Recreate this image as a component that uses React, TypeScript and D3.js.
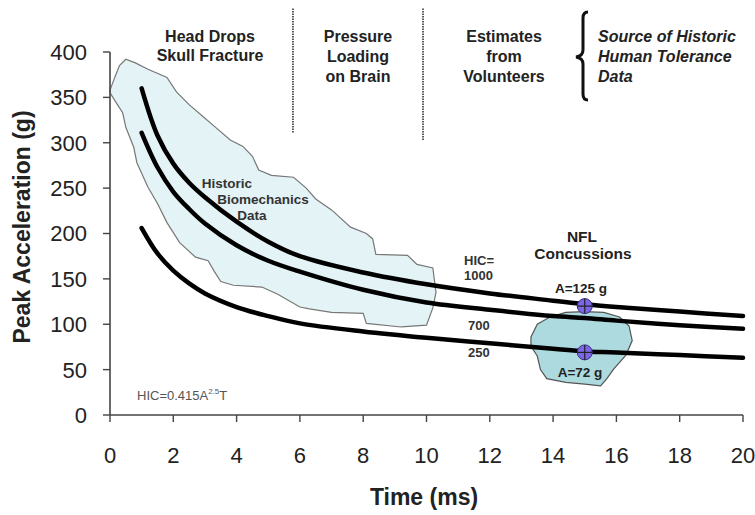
import React from "react";
import * as d3 from "d3";

// ---- data ----
const xTicks = [0, 2, 4, 6, 8, 10, 12, 14, 16, 18, 20];
const yTicks = [0, 50, 100, 150, 200, 250, 300, 350, 400];

const curveTimes = [1, 1.5, 2, 2.5, 3, 4, 5, 6, 8, 10, 12, 14, 15, 16, 18, 20];
const hic1000 = [360, 308, 277, 256, 240, 213, 191, 175, 157, 144, 134, 126, 122, 119, 114, 109];
const hic700 = [311, 273, 246, 227, 211, 187, 170, 158, 138, 124, 116, 109, 107, 104, 99, 95];
const hic250 = [206, 178, 159, 145, 134, 119, 109, 101, 92, 85, 79, 73, 70, 69, 66, 63];

const historicT = [0, 0.15, 0.3, 0.5, 0.8, 1.2, 1.8, 2.1, 2.5, 2.9, 3.3, 3.8, 4.2, 4.5, 4.7, 5.1, 5.8, 6.2, 6.5, 7.0, 7.6, 8.1, 8.3, 8.4, 9.4, 9.7, 10.2, 10.3, 10.2, 10.0, 9.2, 8.1, 8.0, 7.0, 6.3, 6.0, 5.3, 4.8, 3.9, 3.5, 3.3, 3.1, 2.7, 2.2, 1.8, 1.5, 1.2, 0.85, 0.75, 0.5, 0.4, 0.2, 0];
const historicA = [358, 372, 385, 392, 388, 381, 372, 356, 342, 330, 318, 303, 296, 285, 270, 264, 262, 250, 238, 226, 207, 200, 194, 177, 176, 166, 162, 135, 118, 99, 97, 101, 112, 113, 117, 119, 133, 141, 143, 147, 158, 170, 174, 190, 212, 233, 251, 278, 295, 317, 333, 344, 355];

const nflT = [13.3, 13.5, 13.9, 14.4, 15.0, 15.6, 16.1, 16.4, 16.5, 16.3, 15.9, 15.7, 15.5, 15.0, 14.4, 13.8, 13.6, 13.5, 13.3];
const nflA = [86, 100, 108, 113, 114, 113, 108, 98, 82, 66, 50, 40, 32, 34, 36, 40, 50, 65, 76];

const markerT = [15, 15];
const markerA = [120, 69];

const dividerTimes = [5.78, 9.89];
const dividerTop = 448;
const dividerBottoms = [311, 303];

const W = 755;
const H = 515;

export default function App() {
  const x = d3.scaleLinear().domain([0, 20]).range([110, 743]);
  const y = d3.scaleLinear().domain([0, 400]).range([415, 52]);

  const line = d3
    .line<[number, number]>()
    .x((d) => x(d[0]))
    .y((d) => y(d[1]))
    .curve(d3.curveCatmullRom.alpha(0.5));

  const area = d3
    .line<[number, number]>()
    .x((d) => x(d[0]))
    .y((d) => y(d[1]))
    .curve(d3.curveLinearClosed);

  const series = [hic1000, hic700, hic250];
  const hist: [number, number][] = historicT.map((t, i) => [t, historicA[i]]);
  const nfl: [number, number][] = nflT.map((t, i) => [t, nflA[i]]);

  const font = "Arial, 'Liberation Sans', Helvetica, sans-serif";
  const axisColor = "#444";

  return (
    <svg
      width={W}
      height={H}
      style={{ position: "absolute", left: 0, top: 0, background: "#fff" }}
      fontFamily={font}
    >
      <rect x={0} y={0} width={W} height={H} fill="#fff" />

      {/* Historic biomechanics blob */}
      <path d={area(hist) || ""} fill="#e4f3f5" stroke="#777" strokeWidth={1.2} />
      {/* NFL blob */}
      <path d={area(nfl) || ""} fill="#acdade" stroke="#555" strokeWidth={1.2} />

      {/* dividers */}
      {dividerTimes.map((t, i) => (
        <line
          key={i}
          x1={x(t)}
          x2={x(t)}
          y1={y(dividerTop)}
          y2={y(dividerBottoms[i])}
          stroke="#333"
          strokeWidth={1.6}
          strokeDasharray="1.5,1"
        />
      ))}

      {/* axes */}
      <line x1={x(0)} x2={x(0)} y1={y(0)} y2={y(400)} stroke={axisColor} strokeWidth={1.6} />
      <line x1={x(0)} x2={x(20)} y1={y(0)} y2={y(0)} stroke={axisColor} strokeWidth={1.6} />
      {yTicks.map((v) => (
        <g key={"y" + v}>
          <line x1={x(0) - 7} x2={x(0)} y1={y(v)} y2={y(v)} stroke={axisColor} strokeWidth={1.4} />
          <text x={87} y={y(v)} dy="0.36em" textAnchor="end" fontSize={22} fill="#222">
            {v}
          </text>
        </g>
      ))}
      {xTicks.map((v) => (
        <g key={"x" + v}>
          <line x1={x(v)} x2={x(v)} y1={y(0)} y2={y(0) + 7} stroke={axisColor} strokeWidth={1.4} />
          <text x={x(v)} y={463} textAnchor="middle" fontSize={22} fill="#222">
            {v}
          </text>
        </g>
      ))}

      {/* axis titles */}
      <text
        transform="translate(30,227) rotate(-90)"
        textAnchor="middle"
        fontSize={23}
        fontWeight="bold"
        fill="#222"
      >
        Peak Acceleration (g)
      </text>
      <text x={424} y={505} textAnchor="middle" fontSize={23} fontWeight="bold" fill="#222">
        Time (ms)
      </text>

      {/* HIC curves */}
      {series.map((s, i) => (
        <path
          key={i}
          d={line(curveTimes.map((t, j) => [t, s[j]] as [number, number])) || ""}
          fill="none"
          stroke="#000"
          strokeWidth={4.5}
          strokeLinecap="round"
        />
      ))}

      {/* markers */}
      {markerT.map((t, i) => (
        <g key={"m" + i}>
          <circle cx={x(t)} cy={y(markerA[i])} r={7.5} fill="#7a66e6" stroke="#3a2f80" strokeWidth={1} />
          <line x1={x(t) - 7.5} x2={x(t) + 7.5} y1={y(markerA[i])} y2={y(markerA[i])} stroke="#222" strokeWidth={1.2} />
          <line x1={x(t)} x2={x(t)} y1={y(markerA[i]) - 7.5} y2={y(markerA[i]) + 7.5} stroke="#222" strokeWidth={1.2} />
        </g>
      ))}

      {/* top annotations */}
      <g fontWeight="bold" fontSize={16} fill="#222" textAnchor="middle">
        <text x={210} y={42}>Head Drops</text>
        <text x={210} y={61}>Skull Fracture</text>
        <text x={358} y={42}>Pressure</text>
        <text x={358} y={62}>Loading</text>
        <text x={358} y={82}>on Brain</text>
        <text x={504} y={42}>Estimates</text>
        <text x={504} y={62}>from</text>
        <text x={504} y={82}>Volunteers</text>
      </g>
      <path
        d="M588,12 Q583,12 583,18 L583,50 Q583,56 576,57 Q583,58 583,64 L583,94 Q583,100 588,100"
        fill="none"
        stroke="#111"
        strokeWidth={3}
      />
      <g fontWeight="bold" fontStyle="italic" fontSize={16} fill="#222">
        <text x={598} y={42}>Source of Historic</text>
        <text x={598} y={62}>Human Tolerance</text>
        <text x={598} y={82}>Data</text>
      </g>

      {/* in-plot labels */}
      <g fontWeight="bold" fontSize={13.5} fill="#333" textAnchor="middle">
        <text x={227} y={188}>Historic</text>
        <text x={263} y={204}>Biomechanics</text>
        <text x={252} y={220}>Data</text>
      </g>
      <g fontWeight="bold" fontSize={13} fill="#333">
        <text x={464} y={265}>HIC=</text>
        <text x={464} y={280}>1000</text>
        <text x={468} y={330}>700</text>
        <text x={468} y={357}>250</text>
      </g>
      <g fontWeight="bold" fontSize={15.5} fill="#222" textAnchor="middle">
        <text x={582} y={242}>NFL</text>
        <text x={583} y={259}>Concussions</text>
      </g>
      <g fontWeight="bold" fontSize={13.5} fill="#222" textAnchor="middle">
        <text x={581} y={293}>A=125 g</text>
        <text x={580} y={377}>A=72 g</text>
      </g>
      <text x={137} y={400} fontSize={13} fill="#555">
        HIC=0.415A<tspan fontSize={8} dy={-6}>2.5</tspan>
        <tspan dy={6}>T</tspan>
      </text>
    </svg>
  );
}
